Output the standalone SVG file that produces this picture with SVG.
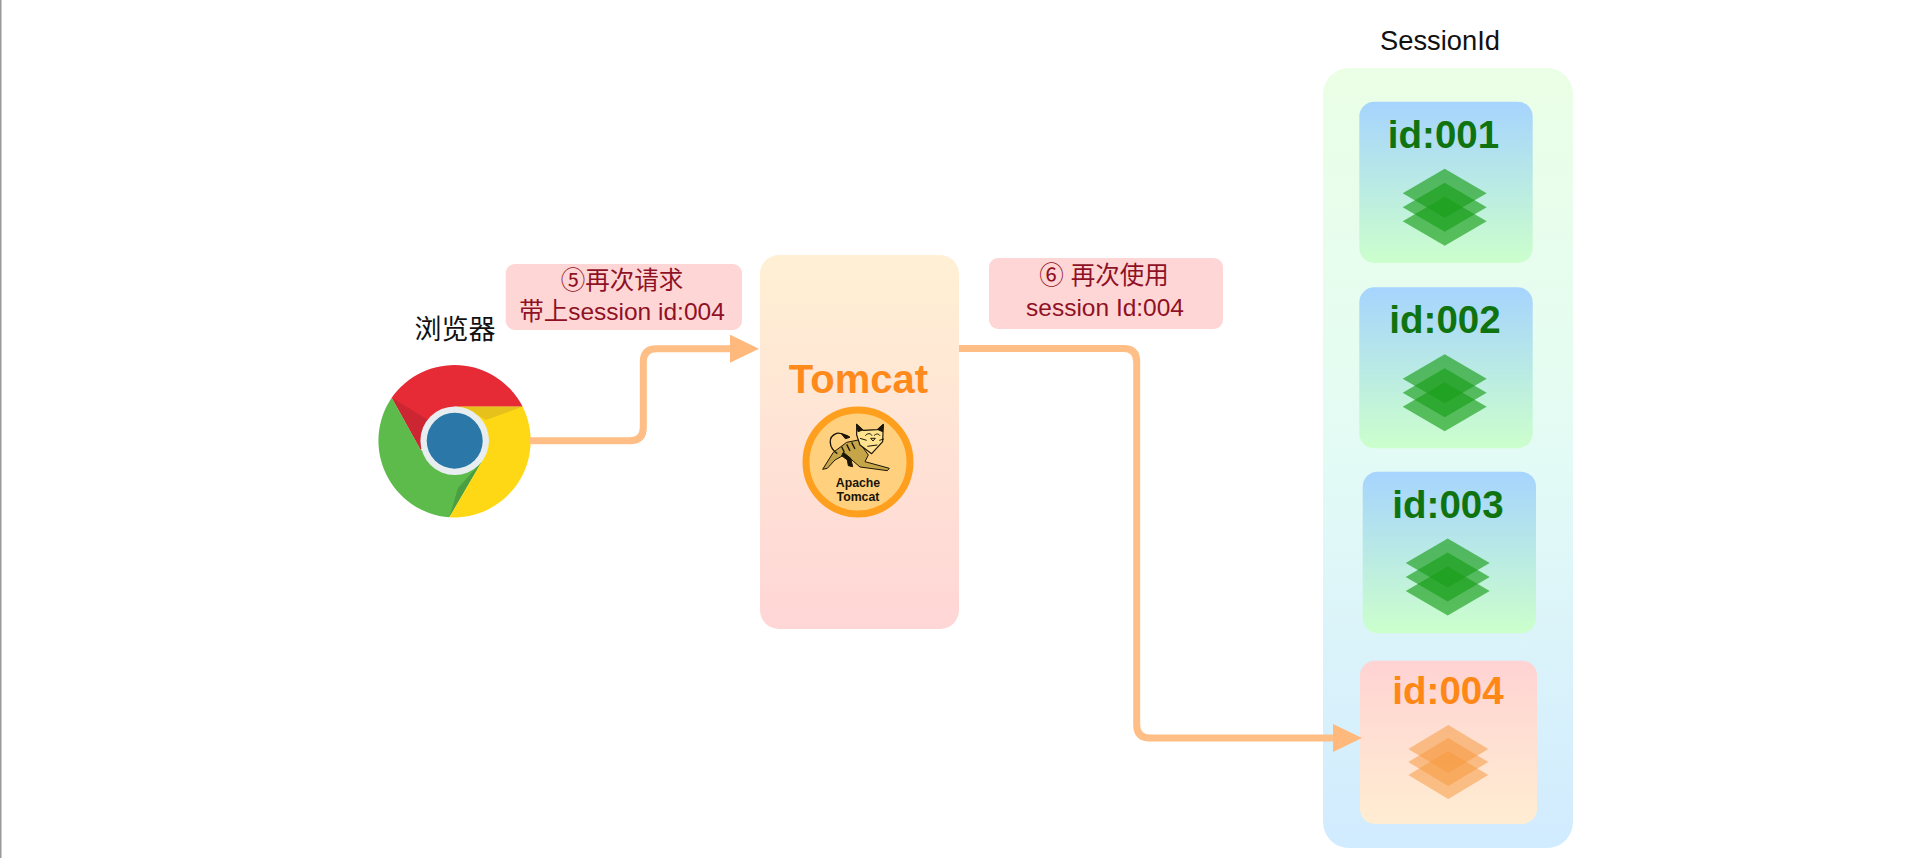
<svg xmlns="http://www.w3.org/2000/svg" xmlns:xlink="http://www.w3.org/1999/xlink" width="1920" height="858" viewBox="0 0 1920 858">
<style>
text{font-family:"Liberation Sans","Noto Sans CJK SC",sans-serif;text-anchor:middle}
.label{font-size:24.5px;fill:#8f1125}
.id{font-size:38.5px;font-weight:700;fill:#0f730f}
.conn{fill:none;stroke:#ffbe85;stroke-width:7}
.note{fill:#ffd6d6}
</style>
<defs>
<linearGradient id="gTomcat" x1="0" y1="0" x2="0" y2="1"><stop offset="0" stop-color="#fff0d4"/><stop offset="1" stop-color="#ffd6d6"/></linearGradient>
<linearGradient id="gPanel" x1="0" y1="0" x2="0" y2="1"><stop offset="0" stop-color="#ebffe6"/><stop offset=".5" stop-color="#e3fbf5"/><stop offset="1" stop-color="#d1ebff"/></linearGradient>
<linearGradient id="gBlue" x1="0" y1="0" x2="0" y2="1"><stop offset="0" stop-color="#a6d4fe"/><stop offset="1" stop-color="#ccffcc"/></linearGradient>
<linearGradient id="gPeach" x1="0" y1="0" x2="0" y2="1"><stop offset="0" stop-color="#ffd3d3"/><stop offset="1" stop-color="#ffedd2"/></linearGradient>
<marker id="head" viewBox="0 0 29 28" markerWidth="29" markerHeight="28" refX="0" refY="14" markerUnits="userSpaceOnUse" orient="auto"><path d="M0 0L29 14L0 28Z" fill="#ffb97c"/></marker>
<g id="stackG" fill="#1a9e1a" fill-opacity=".65"><path d="M-42 -14L0 -38.500L42 -14L0 10.500Z"/><path d="M-42 0L0 -24.500L42 0L0 24.500Z"/><path d="M-42 14L0 -10.500L42 14L0 38.500Z"/></g>
<g id="stackO" fill="#f59b42" fill-opacity=".55"><path d="M-40 -13L0 -37L40 -13L0 11Z"/><path d="M-40 0L0 -24L40 0L0 24Z"/><path d="M-40 13L0 -11L40 13L0 37Z"/></g>
</defs>
<rect width="1920" height="858" fill="#fff"/>
<rect x="0" y="0" width="1.500" height="858" fill="#999"/>

<g id="panel">
<rect x="1323" y="68" width="250" height="780" rx="26" fill="url(#gPanel)"/>
<text x="1440" y="50" font-size="27.300" fill="#111">SessionId</text>
</g>

<g id="browser">
<text x="455" y="339" font-size="27" fill="#111">浏览器</text>
<path d="M391.700 397.700A76.700 76.700 0 0 1 522.700 406.700L454.700 406.700L420.700 450Z" fill="#e62a36"/>
<path d="M391.700 397.700L420.700 450L428 420Z" fill="#b9252f" opacity=".6"/>
<path d="M391.700 397.700L420.700 450L481.700 461.700L449.300 517.300A76.700 76.700 0 0 1 391.700 397.700Z" fill="#5cbb4b"/>
<path d="M481.700 461.700L449.300 517.300L458 488Z" fill="#4a9f42"/>
<path d="M522.700 406.700A76.700 76.700 0 0 1 449.300 517.300L481.700 461.700L454.700 406.700Z" fill="#ffd815"/>
<path d="M463 406.700L522.700 406.700L486 420Z" fill="#e6c11c"/>
<circle cx="454.700" cy="440.700" r="34.300" fill="#e8eef0"/>
<circle cx="454.700" cy="440.700" r="28" fill="#2b77a8"/>
</g>

<g id="label5">
<rect class="note" x="505.700" y="264" width="236.300" height="66" rx="9"/>
<text class="label" x="622" y="289">⑤再次请求</text>
<text class="label" x="622" y="320">带上session id:004</text>
</g>

<g id="tomcat">
<rect x="760" y="255" width="199" height="374" rx="19" fill="url(#gTomcat)"/>
<text x="858.500" y="393" font-size="40" font-weight="700" fill="#ff8a1c">Tomcat</text>
<circle cx="858" cy="462" r="52" fill="#ffd17f" stroke="#ff9f1e" stroke-width="7"/>
<g transform="translate(800 405) scale(.3333)" stroke="#1a1408" stroke-width="3" stroke-linejoin="round">
<path d="M68 193L100 142L140 112L175 105L192 132L205 150L195 170L268 190L262 197L180 186L150 160L132 150L105 165L82 190Z" fill="#c6a548"/>
<path d="M112 146C86 128 82 95 110 85C125 82 135 90 148 96" fill="none" stroke-width="4"/>
<path d="M124 86L150 97L136 101Z" fill="#1a1408"/>
<path d="M130 142L152 160L158 185L145 182L142 165L125 152Z" fill="#1a1408"/>
<path d="M140 118L150 138M155 112L165 132M125 125L133 142" fill="none" stroke-width="4"/>
<path d="M170 58L190 76L232 74L250 58L248 110L215 146L180 120L170 90Z" fill="#ffe38f" stroke-width="3.500"/>
<path d="M170 58L188 75L174 80ZM250 58L234 74L248 80Z" fill="#1a1408"/>
<path d="M196 92C203 84 212 84 216 92M222 92C228 85 236 86 240 92M212 100L226 100L219 108ZM202 124L232 120M180 100L200 106M238 106L252 102" fill="none" stroke-width="3"/>
</g>
<text x="858" y="486.700" font-size="12.300" font-weight="700" fill="#1a1408">Apache</text>
<text x="858" y="501" font-size="12.300" font-weight="700" fill="#1a1408">Tomcat</text>
</g>

<g id="label6">
<rect class="note" x="989" y="258" width="234" height="71" rx="9"/>
<text class="label" x="1104" y="284">⑥ 再次使用</text>
<text class="label" x="1105" y="316">session Id:004</text>
</g>

<g id="id001">
<rect x="1359.300" y="101.700" width="173.400" height="161.300" rx="15" fill="url(#gBlue)"/>
<text class="id" x="1443.500" y="148">id:001</text>
<use href="#stackG" xlink:href="#stackG" x="1444.700" y="207.300"/>
</g>
<g id="id002">
<rect x="1359.300" y="287.300" width="173.400" height="161" rx="15" fill="url(#gBlue)"/>
<text class="id" x="1445" y="333">id:002</text>
<use href="#stackG" xlink:href="#stackG" x="1444.700" y="392.800"/>
</g>
<g id="id003">
<rect x="1362.700" y="471.700" width="173.300" height="161.600" rx="15" fill="url(#gBlue)"/>
<text class="id" x="1448" y="518.300">id:003</text>
<use href="#stackG" xlink:href="#stackG" x="1447.700" y="577"/>
</g>
<g id="id004">
<rect x="1360" y="660.700" width="177" height="163.300" rx="15" fill="url(#gPeach)"/>
<text class="id" x="1448" y="704" style="fill:#ff8716">id:004</text>
<use href="#stackO" xlink:href="#stackO" x="1448.300" y="762"/>
</g>

<g id="connectors">
<path class="conn" marker-end="url(#head)" d="M530 440.700H630Q643.300 440.700 643.300 427.500V362Q643.300 348.700 656.500 348.700H730"/>
<path class="conn" marker-end="url(#head)" d="M959 348.500H1123.500Q1136.700 348.500 1136.700 361.700V725Q1136.700 738 1150 738H1333"/>
</g>
</svg>
